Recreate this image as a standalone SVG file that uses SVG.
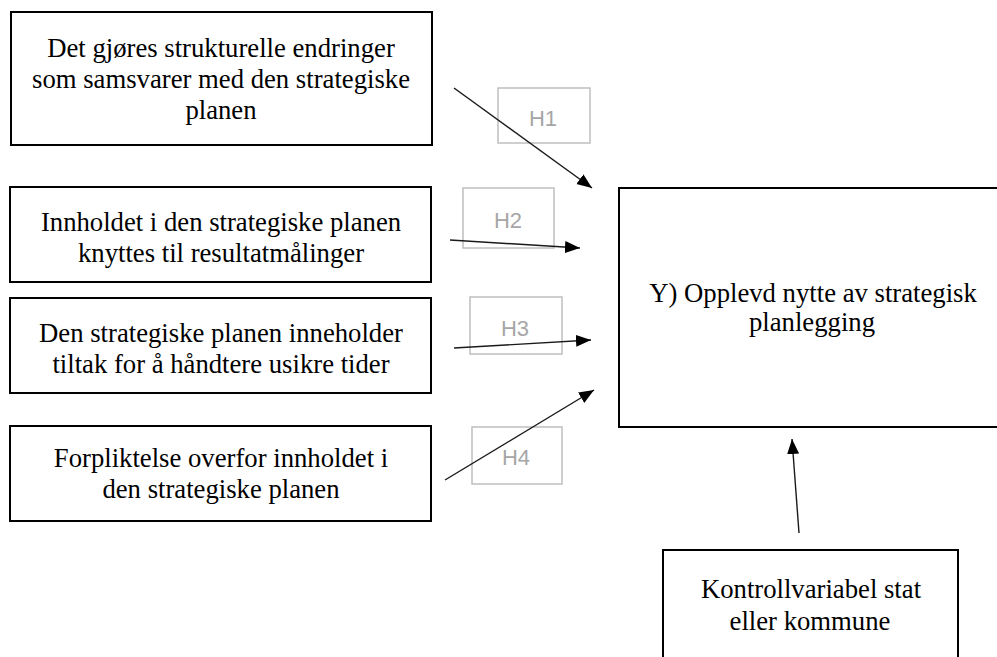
<svg xmlns="http://www.w3.org/2000/svg" width="997" height="657" viewBox="0 0 997 657">
  <style>
    .box { fill: #ffffff; stroke: #000000; stroke-width: 2; }
    .lbl { font-size: 26.7px; fill: #000000; text-anchor: middle; }
    .hbox { fill: none; stroke: #bfbfbf; stroke-width: 1.5; }
    .htxt { font-size: 22px; fill: #a6a6a6; text-anchor: middle; }
    .edge { stroke: #1a1a1a; stroke-width: 1.4; fill: none; marker-end: url(#head); }
  </style>
  <defs>
    <marker id="head" markerUnits="userSpaceOnUse" markerWidth="16" markerHeight="13" refX="15" refY="6" orient="auto">
      <path d="M0,0 L15,6 L0,12 z" fill="#000000"/>
    </marker>
  </defs>
  <rect width="997" height="657" fill="#ffffff"/>

  <!-- hypothesis label boxes -->
  <g font-family="Liberation Sans, Arial, sans-serif">
    <g id="h1"><rect class="hbox" x="498" y="88" width="92" height="55"/><text class="htxt" x="543" y="126">H1</text></g>
    <g id="h2"><rect class="hbox" x="463" y="188" width="91" height="60"/><text class="htxt" x="508" y="228">H2</text></g>
    <g id="h3"><rect class="hbox" x="470" y="297" width="92" height="57"/><text class="htxt" x="515" y="336">H3</text></g>
    <g id="h4"><rect class="hbox" x="472" y="427" width="90" height="57"/><text class="htxt" x="516" y="465">H4</text></g>
  </g>

  <g font-family="Liberation Serif, DejaVu Serif, Times New Roman, serif">
    <!-- predictor boxes -->
    <g id="x1">
      <rect class="box" x="11" y="12" width="421" height="133"/>
      <text class="lbl" x="221" y="57">Det gjøres strukturelle endringer</text>
      <text class="lbl" x="221" y="88">som samsvarer med den strategiske</text>
      <text class="lbl" x="221" y="119">planen</text>
    </g>
    <g id="x2">
      <rect class="box" x="10" y="187" width="421" height="95"/>
      <text class="lbl" x="221" y="231">Innholdet i den strategiske planen</text>
      <text class="lbl" x="221" y="262">knyttes til resultatmålinger</text>
    </g>
    <g id="x3">
      <rect class="box" x="10" y="298" width="421" height="95"/>
      <text class="lbl" x="221" y="342">Den strategiske planen inneholder</text>
      <text class="lbl" x="221" y="373">tiltak for å håndtere usikre tider</text>
    </g>
    <g id="x4">
      <rect class="box" x="10" y="426" width="421" height="95"/>
      <text class="lbl" x="221" y="467">Forpliktelse overfor innholdet i</text>
      <text class="lbl" x="221" y="498">den strategiske planen</text>
    </g>

    <!-- outcome -->
    <g id="y">
      <rect class="box" x="619" y="188" width="390" height="239"/>
      <text class="lbl" x="813" y="302">Y) Opplevd nytte av strategisk</text>
      <text class="lbl" x="812" y="331">planlegging</text>
    </g>

    <!-- control variable -->
    <g id="control">
      <rect class="box" x="663" y="550" width="295" height="120"/>
      <text class="lbl" x="811" y="598">Kontrollvariabel stat</text>
      <text class="lbl" x="810" y="630">eller kommune</text>
    </g>
  </g>

  <!-- connectors -->
  <g id="connectors">
    <line class="edge" x1="454" y1="88" x2="592" y2="188"/>
    <line class="edge" x1="450" y1="240" x2="580" y2="248"/>
    <line class="edge" x1="454" y1="348" x2="591" y2="340"/>
    <line class="edge" x1="445" y1="480" x2="594" y2="390"/>
    <line class="edge" x1="799" y1="533" x2="792" y2="439"/>
  </g>
</svg>
